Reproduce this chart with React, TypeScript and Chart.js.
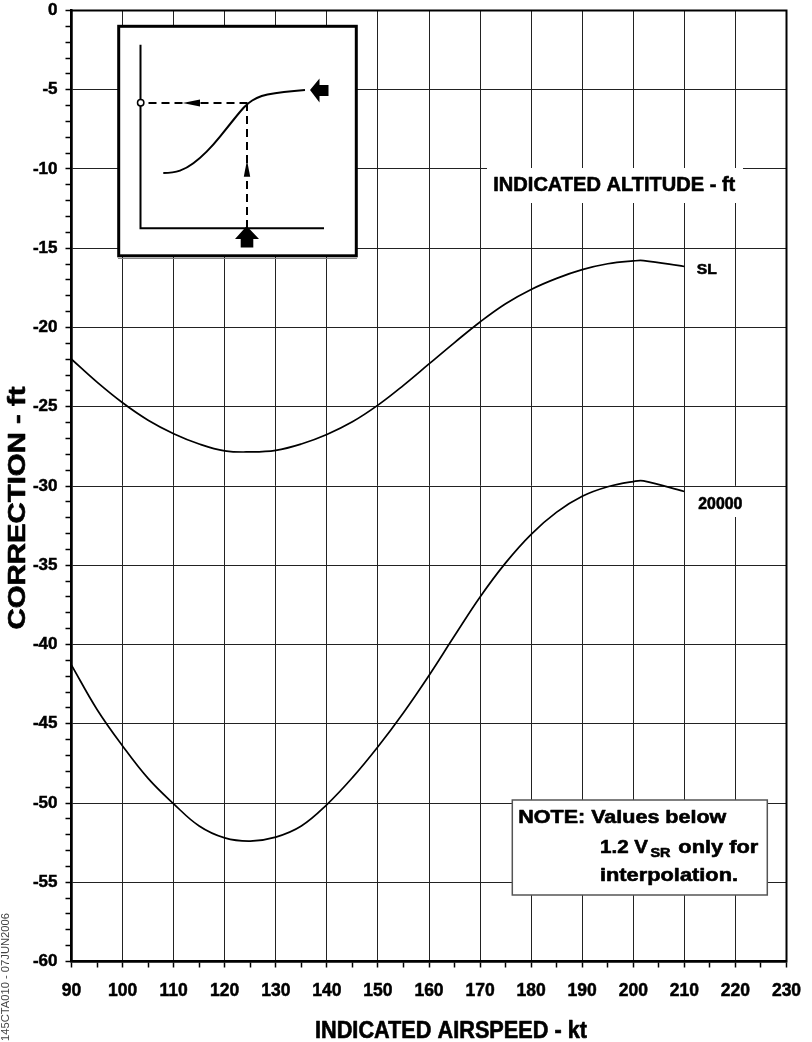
import React, { useEffect, useRef } from "react";
import { Chart, registerables } from "chart.js";

Chart.register(...registerables);

// ---- Data ----
const speedsSL = [90, 95, 100, 105, 110, 115, 120, 125, 130, 135, 140, 145, 150, 155, 160, 165, 170, 175, 180, 185, 190, 195, 200, 202, 210];
const correctionSL = [-22.0, -23.45, -24.75, -25.85, -26.7, -27.35, -27.78, -27.85, -27.75, -27.35, -26.75, -25.95, -24.9, -23.65, -22.3, -20.95, -19.65, -18.5, -17.6, -16.9, -16.35, -15.98, -15.8, -15.78, -16.15];

const speeds20000 = [90, 95, 100, 105, 110, 115, 120, 125, 130, 135, 140, 145, 150, 155, 160, 165, 170, 175, 180, 185, 190, 195, 200, 202, 210];
const correction20000 = [-41.3, -44.1, -46.4, -48.45, -50.05, -51.45, -52.2, -52.4, -52.15, -51.45, -50.1, -48.4, -46.45, -44.3, -41.95, -39.45, -37.0, -34.85, -33.05, -31.65, -30.65, -30.05, -29.72, -29.68, -30.35];

const seriesLabels = ["SL", "20000"];
const xTitle = "INDICATED AIRSPEED - kt";
const yTitle = "CORRECTION - ft";
const legendTitle = "INDICATED ALTITUDE - ft";
const noteLine1 = "NOTE: Values below";
const noteLine2a = "1.2 V";
const noteLine2sub = "SR";
const noteLine2b = "only for";
const noteLine3 = "interpolation.";
const sideText = "145CTA010 - 07JUN2006";

const X_MIN = 90, X_MAX = 230, Y_MIN = -60, Y_MAX = 0;

const FONT = '"Liberation Sans", Arial, Helvetica, sans-serif';

function fitText(ctx: CanvasRenderingContext2D, text: string, x: number, y: number, size: number, width: number, align: CanvasTextAlign = "left", weight = "bold", color = "#000", stroke = 0.6) {
  ctx.save();
  ctx.font = `${weight} ${size}px ${FONT}`;
  const w = ctx.measureText(text).width;
  const sx = w > 0 ? width / w : 1;
  ctx.translate(x, y);
  ctx.scale(sx, 1);
  ctx.textAlign = align;
  ctx.textBaseline = "alphabetic";
  ctx.fillStyle = color;
  ctx.fillText(text, 0, 0);
  if (stroke > 0) {
    ctx.strokeStyle = color;
    ctx.lineWidth = stroke;
    ctx.lineJoin = "round";
    ctx.strokeText(text, 0, 0);
  }
  ctx.restore();
}

function drawInset(ctx: CanvasRenderingContext2D) {
  ctx.save();
  // box
  ctx.fillStyle = "#fff";
  ctx.fillRect(118.7, 26.3, 237.6, 229.5);
  ctx.strokeStyle = "#000";
  ctx.lineWidth = 3;
  ctx.strokeRect(118.7, 26.3, 237.6, 229.5);
  ctx.strokeStyle = "#888";
  ctx.lineWidth = 1;
  ctx.beginPath();
  ctx.moveTo(118, 258.5);
  ctx.lineTo(357, 258.5);
  ctx.stroke();

  // axes
  ctx.strokeStyle = "#000";
  ctx.lineWidth = 2;
  ctx.beginPath();
  ctx.moveTo(140.5, 44.7);
  ctx.lineTo(140.5, 228.3);
  ctx.lineTo(324, 228.3);
  ctx.stroke();

  // curve
  const pts = [[163.3, 173], [173.3, 173], [186.7, 168.3], [200, 158.3], [213.3, 145], [226.7, 128.3], [240, 111.7], [247.7, 103.3], [256.7, 97.7], [266.7, 94.3], [283.3, 92], [305, 90]];
  ctx.lineWidth = 2;
  ctx.beginPath();
  ctx.moveTo(pts[0][0], pts[0][1]);
  for (let i = 1; i < pts.length - 1; i++) {
    const mx = (pts[i][0] + pts[i + 1][0]) / 2;
    const my = (pts[i][1] + pts[i + 1][1]) / 2;
    ctx.quadraticCurveTo(pts[i][0], pts[i][1], mx, my);
  }
  ctx.lineTo(pts[pts.length - 1][0], pts[pts.length - 1][1]);
  ctx.stroke();

  // dashed guides
  ctx.setLineDash([8, 5]);
  ctx.beginPath();
  ctx.moveTo(247.5, 103);
  ctx.lineTo(141, 103);
  ctx.moveTo(247, 228);
  ctx.lineTo(247, 104);
  ctx.stroke();
  ctx.setLineDash([]);

  // small arrows
  ctx.fillStyle = "#000";
  ctx.beginPath();
  ctx.moveTo(182.7, 103);
  ctx.lineTo(200, 99.6);
  ctx.lineTo(200, 106.4);
  ctx.closePath();
  ctx.fill();
  ctx.beginPath();
  ctx.moveTo(247, 160);
  ctx.lineTo(243.8, 176.7);
  ctx.lineTo(250.2, 176.7);
  ctx.closePath();
  ctx.fill();

  // circle
  ctx.beginPath();
  ctx.arc(140.7, 102.7, 3.2, 0, Math.PI * 2);
  ctx.fillStyle = "#fff";
  ctx.fill();
  ctx.lineWidth = 1.5;
  ctx.strokeStyle = "#000";
  ctx.stroke();

  // block arrows
  ctx.fillStyle = "#000";
  ctx.beginPath();
  ctx.moveTo(310, 90);
  ctx.lineTo(319.5, 78.5);
  ctx.lineTo(319.5, 85);
  ctx.lineTo(328.5, 85);
  ctx.lineTo(328.5, 96);
  ctx.lineTo(319.5, 96);
  ctx.lineTo(319.5, 102.5);
  ctx.closePath();
  ctx.fill();
  ctx.beginPath();
  ctx.moveTo(246.7, 226);
  ctx.lineTo(259, 239);
  ctx.lineTo(253.3, 239);
  ctx.lineTo(253.3, 247.5);
  ctx.lineTo(240.7, 247.5);
  ctx.lineTo(240.7, 239);
  ctx.lineTo(235, 239);
  ctx.closePath();
  ctx.fill();
  ctx.restore();
}

const decorPlugin = {
  id: "decor",
  afterDraw(chart: any) {
    const ctx: CanvasRenderingContext2D = chart.ctx;
    const a = chart.chartArea;

    // frame
    ctx.save();
    ctx.strokeStyle = "#000";
    ctx.lineWidth = 2;
    ctx.strokeRect(a.left, a.top, a.right - a.left, a.bottom - a.top);
    ctx.restore();

    // inset
    drawInset(ctx);

    // white backgrounds behind labels
    ctx.save();
    ctx.fillStyle = "#fff";
    ctx.fillRect(487, 168, 256, 35);
    ctx.fillRect(695, 487, 51, 30);
    ctx.restore();
    fitText(ctx, legendTitle, 493.3, 190.7, 19.5, 242);

    // series labels
    fitText(ctx, seriesLabels[0], 696.7, 274.3, 15.5, 20);
    fitText(ctx, seriesLabels[1], 698.3, 509, 16, 44);

    // note box
    ctx.save();
    ctx.fillStyle = "#fff";
    ctx.fillRect(512.3, 800, 255, 95);
    ctx.strokeStyle = "#555";
    ctx.lineWidth = 1.5;
    ctx.strokeRect(512.3, 800, 255, 95);
    ctx.restore();
    fitText(ctx, noteLine1, 518.3, 823.3, 18.6, 208);
    fitText(ctx, noteLine2a, 600, 853.3, 18.6, 48);
    fitText(ctx, noteLine2sub, 650.5, 857.3, 12.6, 20);
    fitText(ctx, noteLine2b, 678.3, 853.3, 18.6, 80);
    fitText(ctx, noteLine3, 600, 880.5, 18.6, 138);

    // axis titles
    fitText(ctx, xTitle, 315, 1038.3, 23, 272);
    ctx.save();
    ctx.translate(25, 508);
    ctx.rotate(-Math.PI / 2);
    fitText(ctx, yTitle, 0, 0, 23, 243, "center");
    ctx.restore();

    // side text
    ctx.save();
    ctx.translate(8.5, 1041);
    ctx.rotate(-Math.PI / 2);
    fitText(ctx, sideText, 0, 0, 11, 128, "left", "normal", "#444", 0);
    ctx.restore();
  },
};

export default function App() {
  const ref = useRef<HTMLCanvasElement | null>(null);

  useEffect(() => {
    if (!ref.current) return;
    const gridColor = "#222";
    const chart = new Chart(ref.current, {
      type: "line",
      data: {
        datasets: [
          {
            label: seriesLabels[0],
            data: speedsSL.map((x, i) => ({ x, y: correctionSL[i] })),
            borderColor: "#000",
            borderWidth: 1.7,
            pointRadius: 0,
            tension: 0.4,
            fill: false,
          },
          {
            label: seriesLabels[1],
            data: speeds20000.map((x, i) => ({ x, y: correction20000[i] })),
            borderColor: "#000",
            borderWidth: 1.7,
            pointRadius: 0,
            tension: 0.4,
            fill: false,
          },
        ],
      },
      options: {
        responsive: false,
        animation: false,
        devicePixelRatio: 1,
        layout: { padding: { top: 10.5, right: 25.5, left: 0, bottom: 0 } },
        plugins: { legend: { display: false }, tooltip: { enabled: false }, title: { display: false } },
        scales: {
          x: {
            type: "linear",
            min: X_MIN,
            max: X_MAX,
            afterFit: (s: any) => { s.height = 80.5; s.paddingLeft = 0; s.paddingRight = 0; },
            ticks: {
              stepSize: 5,
              autoSkip: false,
              maxRotation: 0,
              padding: 13,
              color: "#000",
              textStrokeColor: "#000",
              textStrokeWidth: 0.5,
              font: { family: FONT, size: 17.5, weight: "bold" },
              callback: (v: any) => (Number(v) % 10 === 0 ? String(v) : ""),
            },
            grid: {
              color: (c: any) => (c.tick && c.tick.value % 10 === 0 ? gridColor : "rgba(0,0,0,0)"),
              tickColor: "#000",
              tickLength: 6,
              tickWidth: 1.5,
              lineWidth: 1,
            },
            border: { display: true, color: "#000", width: 2.5 },
          },
          y: {
            type: "linear",
            min: Y_MIN,
            max: Y_MAX,
            afterFit: (s: any) => { s.width = 71.5; s.paddingTop = 0; s.paddingBottom = 0; },
            ticks: {
              stepSize: 1,
              autoSkip: false,
              padding: 8,
              color: "#000",
              textStrokeColor: "#000",
              textStrokeWidth: 0.5,
              font: { family: FONT, size: 17, weight: "bold" },
              callback: (v: any) => (Number(v) % 5 === 0 ? String(v) : ""),
            },
            grid: {
              color: (c: any) => (c.tick && c.tick.value % 5 === 0 ? gridColor : "rgba(0,0,0,0)"),
              tickColor: "#000",
              tickLength: 6,
              tickWidth: 1.5,
              lineWidth: 1,
            },
            border: { display: true, color: "#000", width: 2.5 },
          },
        },
      },
      plugins: [decorPlugin],
    } as any);
    return () => chart.destroy();
  }, []);

  return (
    <div style={{ position: "absolute", left: 0, top: 0, width: 812, height: 1042 }}>
      <canvas ref={ref} width={812} height={1042} style={{ display: "block", width: 812, height: 1042 }} />
    </div>
  );
}
